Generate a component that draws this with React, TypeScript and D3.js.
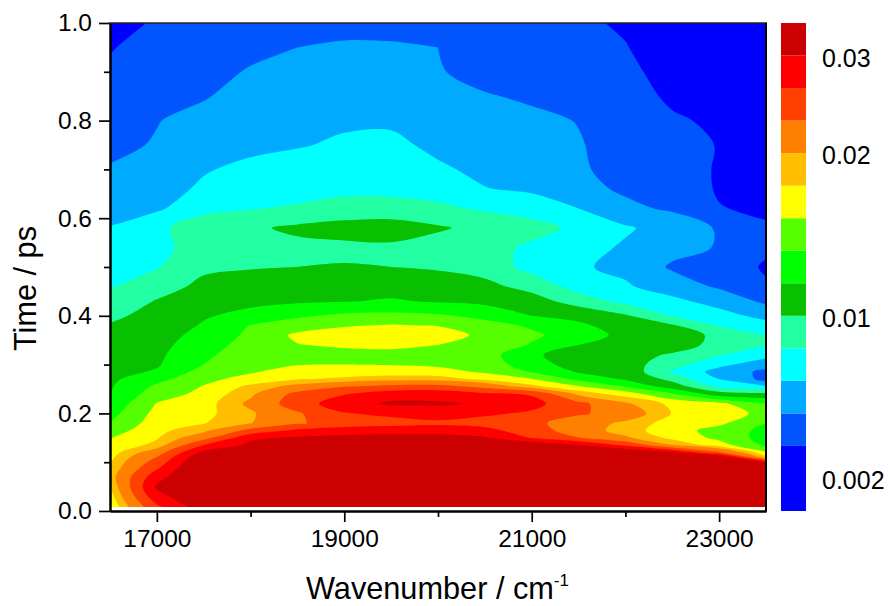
import React, { useEffect, useRef } from 'react';
import * as d3 from 'd3';

// delay times of the grid rows (ps)
const times = [0.008, 0.03, 0.05, 0.07, 0.09, 0.1, 0.11, 0.12, 0.135, 0.15, 0.165, 0.18, 0.2, 0.22, 0.24, 0.255, 0.27, 0.285, 0.3, 0.32, 0.34, 0.36, 0.38, 0.4, 0.43, 0.46, 0.5, 0.54, 0.58, 0.62, 0.66, 0.7, 0.75, 0.8, 0.85, 0.9, 0.95, 1];

const wavenumbers = [16500, 17000, 17500, 18000, 18500, 19000, 19500, 20000, 20500, 21000, 21500, 22000, 22500, 23000, 23500];

// signal x 1000, one list per wavenumber, same order as times
const s16500 = [16, 17, 17.9, 18.8, 18.1, 17.8, 17.4, 17, 16.5, 15.9, 15, 14.1, 13.3, 12.6, 11.95, 11.8, 11.6, 11.4, 11.2, 10.9, 10.6, 10.4, 10.1, 9.7, 9, 8.3, 7.8, 7.3, 6.85, 6.3, 5.8, 5.3, 4.9, 4.55, 4.2, 3.85, 3.5, 3.1];
const s17000 = [26, 29, 30.5, 28.8, 26, 24.8, 23.4, 21.7, 18.6, 17.8, 17.4, 17, 16.6, 16.1, 15.1, 14.4, 13.4, 12.2, 11.8, 11.6, 11.4, 11.1, 10.8, 10.5, 10.1, 9.3, 8.3, 7.8, 8, 6.55, 6.3, 5.7, 5.3, 5.15, 4.8, 4.5, 4.2, 3.75];
const s17500 = [32, 33, 33.5, 34, 34.5, 34, 33, 31, 26.7, 22, 19.4, 17.9, 17.4, 17, 16.5, 16.1, 15.5, 14.8, 14, 13.6, 13.1, 12.7, 12.2, 11.8, 11.1, 10.4, 9.7, 9.4, 9.4, 7.9, 7, 6.7, 6.2, 5.6, 5.1, 4.8, 4.5, 4.2];
const s18000 = [33, 34, 34.5, 34.5, 34, 33.4, 32.7, 32, 30.9, 29.4, 24.3, 19.9, 19.6, 20.6, 19.5, 18.5, 16.7, 15.8, 15.5, 15.1, 14.8, 14.4, 14.1, 12.6, 11.5, 10.7, 9.9, 9.5, 9.75, 8.3, 7.7, 7.1, 6.5, 6.1, 5.7, 5.3, 4.9, 4.5];
const s18500 = [33, 34.5, 35, 35.5, 35, 34.7, 34.2, 33.5, 32, 30.4, 27.4, 22.9, 22.9, 25, 24.3, 20.9, 17.9, 16.9, 15.9, 15.2, 15.9, 16.4, 15, 13.7, 11.7, 11, 10, 9.6, 10.3, 8.6, 7.8, 7.4, 6.7, 6.2, 5.8, 5.5, 5.2, 4.9];
const s19000 = [34, 35, 36, 36, 35.5, 35.2, 34.7, 34, 32.5, 31, 28.3, 25, 26.5, 28.7, 26.5, 23.2, 18.4, 17, 16, 15.3, 16.3, 17.1, 15.8, 14.4, 11.9, 11.2, 10.1, 9.6, 10.7, 8.9, 8.1, 7.65, 7, 6.6, 6.2, 5.8, 5.4, 4.7];
const s19500 = [34, 35, 36, 36.5, 36, 35.7, 35.2, 34.5, 33, 31.3, 28.8, 25.3, 27.5, 30.5, 28.6, 24.3, 19, 17, 15.9, 15.3, 16.5, 17.5, 16.2, 14.5, 12.2, 11.2, 10, 9.7, 10.8, 9, 8, 7.6, 7.1, 6.6, 6.2, 5.8, 5.4, 4.6];
const s20000 = [34, 35, 35.5, 36, 35.5, 35.2, 34.7, 34, 32.8, 31.2, 28.7, 26, 28.3, 30.4, 28.8, 24.5, 19, 16.8, 15.6, 15, 16, 17.2, 15.9, 14.3, 11.8, 10.9, 9.8, 9.3, 10.2, 8.7, 7.8, 7, 6.5, 6.2, 5.6, 5.3, 5.2, 4.3];
const s20500 = [33, 34.5, 35, 35, 34.5, 34.2, 33.7, 33, 31.6, 30.4, 27.7, 25.5, 27.2, 29.7, 27.3, 22.4, 17.6, 15.7, 15, 14.9, 15.7, 15.4, 14.8, 13.4, 11.5, 10.5, 9.3, 9.2, 9.5, 8.2, 6.85, 6.5, 6.1, 5.7, 5.3, 4.75, 4.5, 4];
const s21000 = [33, 34, 34.5, 34.5, 34.5, 34.5, 34.5, 34.5, 33, 26.5, 25, 24.3, 26.2, 27.8, 26.4, 18.6, 16.1, 13.9, 13, 12.3, 13.8, 14.4, 13.7, 12, 10.8, 9.4, 7.9, 8, 9.2, 7.5, 6.6, 6.3, 5.9, 5.5, 5, 4.6, 4.25, 3.9];
const s21500 = [31, 32, 32.5, 32.5, 32, 31.7, 31.3, 31, 30.2, 23.4, 21.5, 21.3, 23.8, 24.2, 19.3, 16.2, 13.5, 11.8, 11, 11.1, 12, 12.9, 12.4, 11.4, 9.2, 7.8, 7, 7.4, 7.9, 6.8, 5.6, 5.35, 5.3, 5.15, 4.7, 4.4, 4.1, 3.8];
const s22000 = [30.8, 31.4, 31.6, 31.6, 34, 34, 34, 34, 26, 20.4, 18.9, 19.5, 21.7, 20.4, 17, 13.9, 11.8, 11.2, 10.7, 10.5, 11, 11.5, 11, 10.2, 7.95, 7, 6.4, 6.6, 7, 5.5, 5, 4.8, 4.6, 4.3, 4.1, 3.85, 3.65, 3.45];
const s22500 = [30.5, 31, 31, 31, 31, 31, 30.8, 30.5, 20, 17.4, 16.8, 17, 17.9, 17.4, 14.2, 11, 9.5, 8.2, 9.1, 9.85, 10.6, 10.9, 10.2, 8.3, 7.2, 6, 5, 5.7, 6.1, 5, 4.7, 4.4, 4.1, 3.75, 3.4, 3.2, 3, 2.8];
const s23000 = [30.2, 30.5, 30.6, 30.6, 30.5, 32, 34, 23.8, 16.9, 15.5, 15.3, 16.4, 17.7, 16.5, 10.8, 8, 6.8, 6.2, 7.2, 8.5, 9.6, 9.6, 8.3, 7.4, 6.2, 5, 4.6, 5.1, 5.05, 3.68, 3.43, 3.44, 3.54, 3.4, 3, 2.45, 2.3, 2.2];
const s23500 = [30.1, 30.3, 30.3, 30.3, 30.2, 30.05, 18.5, 16.3, 13.6, 13.2, 13.4, 14, 15, 14, 10.4, 7, 4.7, 4.8, 5.9, 7.3, 8.5, 8.4, 7.4, 6.3, 4.9, 3.8, 3.4, 3.9, 3.8, 3.3, 3, 2.8, 2.6, 2.5, 2.3, 2.2, 2.1, 2];

const columns = [s16500, s17000, s17500, s18000, s18500, s19000, s19500, s20000, s20500, s21000, s21500, s22000, s22500, s23000, s23500];

// contour levels (x 1000) and the band colours, low to high
const levels = [3.6, 5.2, 6.8, 8.4, 10, 12, 14, 16, 18, 20, 23.3, 26.7, 30];
const bandColors = ['#0000ff', '#0055ff', '#00aaff', '#00ffff', '#22ffa2', '#08c000', '#00ff00', '#55ff00', '#ffff00', '#ffbf00', '#ff8000', '#ff4000', '#ff0000', '#cc0000'];

// colour bar labels and the band edge they sit on
const barLabels = ['0.002', '0.01', '0.02', '0.03'];
const barLabelEdges = [1, 6, 11, 14];
const barEdges = [0, 2, 3, 4, 5, 6, 7, 8, 9, 10, 11, 12, 13, 14, 15];

const xMajor = [17000, 19000, 21000, 23000];
const xMinor = [18000, 20000, 22000];
const yMajor = [0, 0.2, 0.4, 0.6, 0.8, 1];
const yMinor = [0.1, 0.3, 0.5, 0.7, 0.9];

const FONT = '"Liberation Sans", Arial, sans-serif';

export default function App() {
  const ref = useRef<SVGSVGElement>(null);

  useEffect(() => {
    const svg = d3.select(ref.current);
    svg.selectAll('*').remove();

    const x = d3.scaleLinear().domain([16500, 23500]).range([110, 766]);
    const y = d3.scaleLinear().domain([0, 1]).range([511, 23]);

    // contour cell centres sit at i + 0.5
    const colToWave = d3.scaleLinear().domain(wavenumbers.map((_, i) => i + 0.5)).range(wavenumbers).clamp(true);
    const rowToTime = d3.scaleLinear().domain(times.map((_, i) => i + 0.5)).range(times).clamp(true);

    const nx = wavenumbers.length;
    const ny = times.length;
    const values: number[] = [];
    times.forEach((_, j) => columns.forEach((col) => values.push(col[j])));

    const contours = d3.contours().size([nx, ny]).thresholds(levels)(values);

    // smooth each ring, border points are doubled so the spline stays on the frame
    const spline = d3.line().curve(d3.curveCatmullRomClosed.alpha(0.5));
    const ringPath = (ring: number[][]) => {
      const pts: [number, number][] = [];
      ring.slice(0, -1).forEach(([cx, cy]) => {
        const p: [number, number] = [x(colToWave(cx)), y(rowToTime(cy))];
        pts.push(p);
        if (cx <= 0.5 || cx >= nx - 0.5 || cy <= 0.5 || cy >= ny - 0.5) pts.push(p);
      });
      return spline(pts) ?? '';
    };
    const bandPath = (d: any) => d.coordinates.map((poly: number[][][]) => poly.map(ringPath).join('')).join('');

    svg
      .append('defs')
      .append('clipPath')
      .attr('id', 'plot-clip')
      .append('rect')
      .attr('x', x(16500))
      .attr('y', y(1))
      .attr('width', x(23500) - x(16500))
      .attr('height', y(times[0]) - y(1));

    const plot = svg.append('g').attr('clip-path', 'url(#plot-clip)');

    // lowest band is the backdrop, each level paints over it
    plot
      .append('rect')
      .attr('x', x(16500))
      .attr('y', y(1))
      .attr('width', x(23500) - x(16500))
      .attr('height', y(times[0]) - y(1))
      .attr('fill', bandColors[0]);

    plot
      .selectAll('path')
      .data(contours)
      .join('path')
      .attr('d', (d) => bandPath(d))
      .attr('fill-rule', 'evenodd')
      .attr('fill', (_, i) => bandColors[i + 1]);

    const styleAxis = (g: any) => {
      g.selectAll('.domain').attr('stroke', '#000').attr('stroke-width', 2);
      g.selectAll('.tick line').attr('stroke', '#000').attr('stroke-width', 1.7);
      g.selectAll('text').attr('font-family', FONT).attr('font-size', 24.5).attr('fill', '#000');
    };

    // minor ticks first, no labels
    svg
      .append('g')
      .attr('transform', 'translate(0,511)')
      .call(d3.axisBottom(x).tickValues(xMinor).tickSize(6).tickSizeOuter(0).tickFormat(() => ''))
      .call(styleAxis);
    svg
      .append('g')
      .attr('transform', 'translate(110,0)')
      .call(d3.axisLeft(y).tickValues(yMinor).tickSize(6).tickSizeOuter(0).tickFormat(() => ''))
      .call(styleAxis);

    svg
      .append('g')
      .attr('transform', 'translate(0,511)')
      .call(d3.axisBottom(x).tickValues(xMajor).tickSize(11).tickSizeOuter(0).tickPadding(8).tickFormat(d3.format('d')))
      .call(styleAxis);
    svg
      .append('g')
      .attr('transform', 'translate(110,0)')
      .call(d3.axisLeft(y).tickValues(yMajor).tickSize(11).tickSizeOuter(0).tickPadding(7).tickFormat(d3.format('.1f')))
      .call(styleAxis);

    // frame: top and right
    svg.append('line').attr('x1', 109).attr('x2', 767).attr('y1', 23).attr('y2', 23).attr('stroke', '#222').attr('stroke-width', 1.5);
    svg.append('line').attr('x1', 766).attr('x2', 766).attr('y1', 23).attr('y2', 511).attr('stroke', '#000').attr('stroke-width', 2);

    svg
      .append('text')
      .attr('transform', 'translate(35.5,288.5) rotate(-90)')
      .attr('text-anchor', 'middle')
      .attr('font-family', FONT)
      .attr('font-size', 30.7)
      .text('Time / ps');

    const xTitle = svg
      .append('text')
      .attr('x', 306)
      .attr('y', 599)
      .attr('font-family', FONT)
      .attr('font-size', 30.7)
      .text('Wavenumber / cm');
    xTitle.append('tspan').attr('dy', -13).attr('font-size', 17).text('-1');

    // colour bar
    const bar = d3.scaleLinear().domain([0, 15]).range([511, 23]);
    svg
      .append('g')
      .selectAll('rect')
      .data(bandColors)
      .join('rect')
      .attr('x', 781)
      .attr('width', 25)
      .attr('y', (_, i) => bar(barEdges[i + 1]))
      .attr('height', (_, i) => bar(barEdges[i]) - bar(barEdges[i + 1]))
      .attr('fill', (d) => d);

    svg
      .append('g')
      .selectAll('text')
      .data(barLabels)
      .join('text')
      .attr('x', 822)
      .attr('y', (_, i) => bar(barLabelEdges[i]))
      .attr('dy', '0.44em')
      .attr('font-family', FONT)
      .attr('font-size', 25)
      .text((d) => d);
  }, []);

  return <svg ref={ref} width={888} height={606} style={{ position: 'absolute', left: 0, top: 0, background: '#fff' }} />;
}
